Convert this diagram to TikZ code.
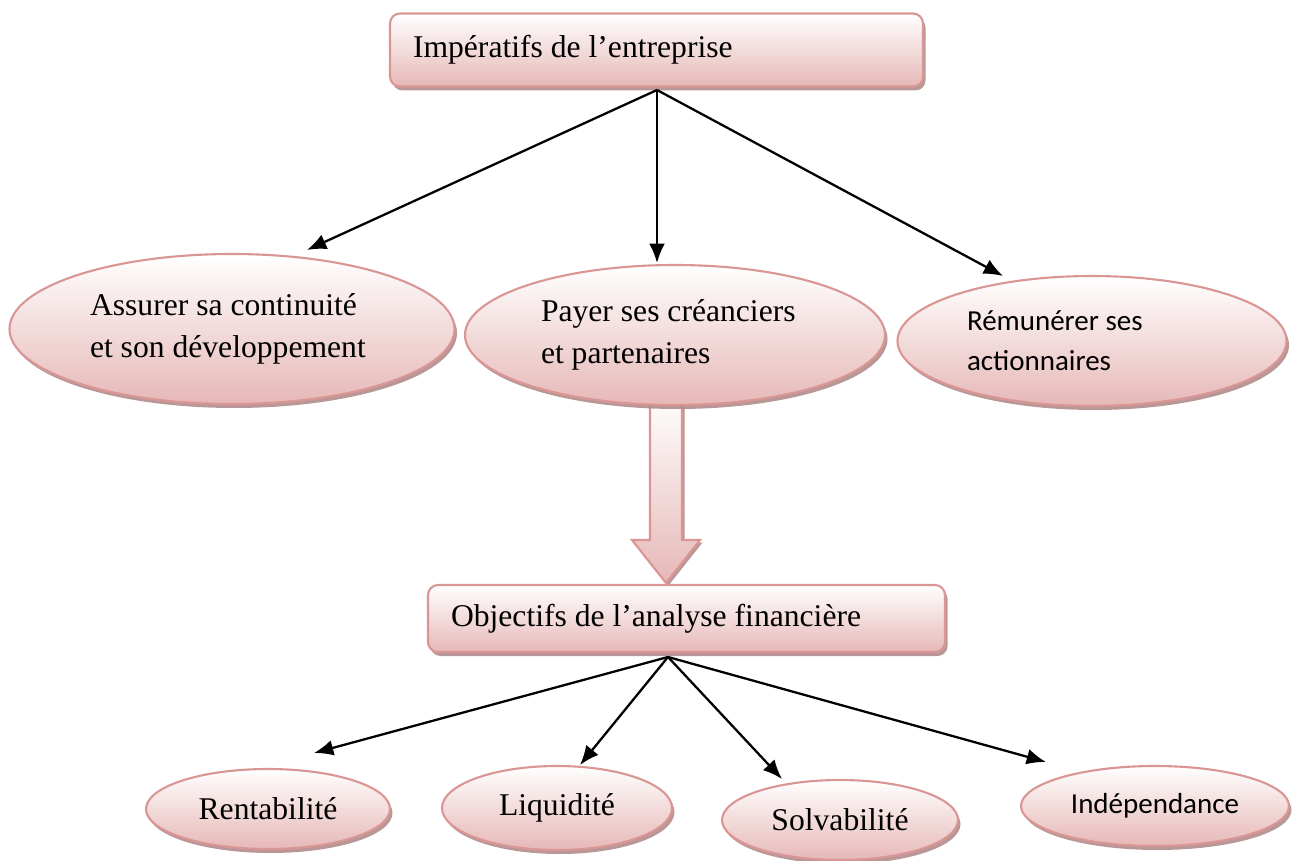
\documentclass[tikz,border=0pt]{standalone}
\usepackage{fontspec}
\setmainfont{Liberation Serif}
\newfontfamily\calibri{Carlito}
\usepackage{tikz}
\usetikzlibrary{positioning}
\usetikzlibrary{shapes}
\usetikzlibrary{shadows}
\usetikzlibrary{arrows.meta}
\definecolor{rosedraw}{RGB}{217,150,148}
\definecolor{rosefill}{RGB}{230,184,183}
\definecolor{roseshadow}{RGB}{178,140,140}

\begin{document}
\begin{tikzpicture}[x=0.02cm, y=-0.02cm,
	pinkshape/.style={draw=rosedraw, line width=1.2pt, top color=white, bottom color=rosefill,
		drop shadow={shadow xshift=0.05cm, shadow yshift=-0.08cm, fill=roseshadow, opacity=0.9}},
	titlebox/.style 2 args={pinkshape, rectangle, rounded corners=0.2cm, minimum width=#1*0.02cm,
		minimum height=#2*0.02cm, inner sep=0pt, align=left, text width=(#1-46)*0.02cm,
		font=\fontsize{18}{24}\selectfont},
	goal/.style 2 args={pinkshape, ellipse, minimum width=#1*0.02cm, minimum height=#2*0.02cm,
		inner sep=0pt, font=\fontsize{18}{24}\selectfont},
	every node/.style={execute at begin node={\spaceskip=0pt\xspaceskip=0pt}},
	link/.style={line width=1.3pt, -{Latex[length=11pt,width=9pt]}}]

	\useasboundingbox (0,0) rectangle (1302,861);

	% big arrow between the two levels
	\draw[draw=rosedraw, line width=1.2pt, top color=white, bottom color=rosefill,
		drop shadow={shadow xshift=0.05cm, shadow yshift=-0.05cm, fill=roseshadow, opacity=0.9}]
		(650,395) -- (682,395) -- (682,540) -- (700,540) -- (666,583) -- (632,540) -- (650,540) -- cycle;

	\node[titlebox={533}{73}] (imp) at (656.5,50) {Impératifs de l’entreprise};

	\node[goal={445}{150}, text width=284*0.02cm, align=left] (cont) at (232,329)
		{Assurer sa continuité\\et son développement};
	\node[goal={420}{140}, text width=268*0.02cm, align=left] (pay) at (675,335)
		{Payer ses créanciers\\et partenaires};
	\node[goal={389}{130}, text width=250*0.02cm, align=left, font=\calibri\fontsize{16.5}{23}\selectfont] (rem) at (1092,341)
		{Rémunérer ses\\actionnaires};

	\node[titlebox={517}{67}] (obj) at (686.5,618.5) {Objectifs de l’analyse financière};

	\node[goal={244}{80}] (rent) at (268,809) {Rentabilité};
	\node[goal={230}{84}] (liq) at (557,808) {Liquidité};
	\node[goal={236}{80}] (solv) at (840,820) {Solvabilité};
	\node[goal={268}{80}, font=\calibri\fontsize{16.5}{23}\selectfont] (ind) at (1155,806) {Indépendance};

	\coordinate (o1) at (657,90);
	\coordinate (t1) at (307,250);
	\coordinate (t2) at (657,263);
	\coordinate (t3) at (1003,276);
	\coordinate (o2) at (668,657);
	\coordinate (b1) at (314,753);
	\coordinate (b2) at (580,765);
	\coordinate (b3) at (782,779);
	\coordinate (b4) at (1046,762);

	\draw[link] (o1) -- (t1);
	\draw[link] (o1) -- (t2);
	\draw[link] (o1) -- (t3);
	\draw[link] (o2) -- (b1);
	\draw[link] (o2) -- (b2);
	\draw[link] (o2) -- (b3);
	\draw[link] (o2) -- (b4);
\end{tikzpicture}
\end{document}
